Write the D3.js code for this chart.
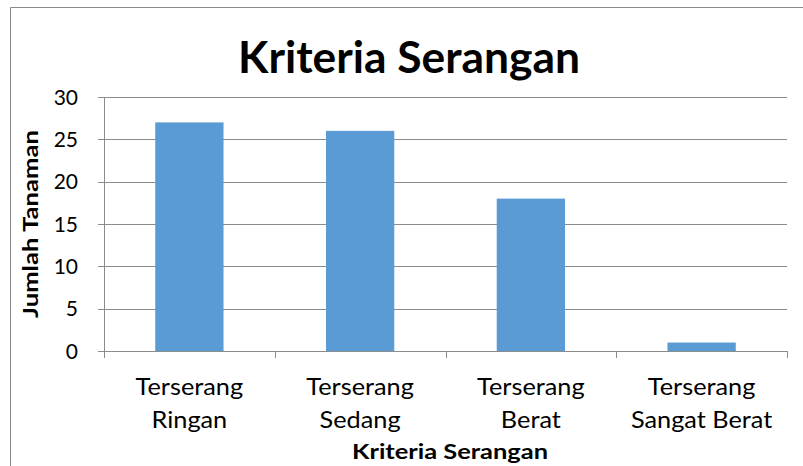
<!DOCTYPE html>
<html>
<head>
<meta charset="utf-8">
<script src="https://cdn.jsdelivr.net/npm/d3@7"></script>
<style>
  body { margin: 0; background: #fff; }
  svg text { font-family: Lato, "Open Sans", sans-serif; fill: #000; }
</style>
</head>
<body>
<div id="chart"></div>
<script>
const categories = [["Terserang", "Ringan"], ["Terserang", "Sedang"], ["Terserang", "Berat"], ["Terserang", "Sangat Berat"]];
const values = [27, 26, 18, 1];
const yTicks = [0, 5, 10, 15, 20, 25, 30];

var width = 803, height = 466;
var margin = { top: 97, right: 16, bottom: 115, left: 104 };

var svg = d3.select("#chart")
    .append("svg")
    .attr("width", width)
    .attr("height", height);

// outer chart frame (only top and left edges show in the crop)
svg.append("path")
    .attr("d", "M10.5," + height + "V7.5H" + width)
    .attr("fill", "none")
    .attr("stroke", "#8a8a8a");

var x = d3.scaleBand()
    .domain(d3.range(categories.length))
    .range([margin.left, width - margin.right])
    .paddingInner(0.6)
    .paddingOuter(0.3);

var xOuter = d3.scaleBand()
    .domain(d3.range(categories.length))
    .range([margin.left, width - margin.right]);

var y = d3.scaleLinear()
    .domain([0, 30])
    .range([height - margin.bottom, margin.top]);

// stretch text a little, Calibri in the original is wider than Lato here
function stretch(sel, k) {
    sel.each(function () {
        var w = this.getComputedTextLength();
        d3.select(this)
            .attr("textLength", w * k)
            .attr("lengthAdjust", "spacingAndGlyphs");
    });
}

// gridlines
svg.append("g")
    .selectAll("line")
    .data(yTicks)
    .enter()
    .append("line")
    .attr("x1", margin.left - 6)
    .attr("x2", width - margin.right)
    .attr("y1", d => Math.round(y(d)) + 0.5)
    .attr("y2", d => Math.round(y(d)) + 0.5)
    .attr("stroke", "#8c8c8c");

// y axis line
svg.append("line")
    .attr("x1", margin.left + 0.5)
    .attr("x2", margin.left + 0.5)
    .attr("y1", y(30))
    .attr("y2", y(0) + 6)
    .attr("stroke", "#8c8c8c");

// x category tick marks
svg.append("g")
    .selectAll("line")
    .data(d3.range(categories.length + 1))
    .enter()
    .append("line")
    .attr("x1", d => Math.round(d < categories.length ? xOuter(d) : width - margin.right) + 0.5)
    .attr("x2", d => Math.round(d < categories.length ? xOuter(d) : width - margin.right) + 0.5)
    .attr("y1", y(0))
    .attr("y2", y(0) + 7)
    .attr("stroke", "#8c8c8c");

// y tick labels
svg.append("g")
    .selectAll("text")
    .data(yTicks)
    .enter()
    .append("text")
    .attr("x", 78)
    .attr("y", d => y(d))
    .attr("dy", "0.36em")
    .attr("text-anchor", "end")
    .style("font-size", "21px")
    .text(d => d);

// bars
svg.append("g")
    .selectAll("rect")
    .data(values)
    .enter()
    .append("rect")
    .attr("x", (d, i) => x(i))
    .attr("width", x.bandwidth())
    .attr("y", d => y(d))
    .attr("height", d => y(0) - y(d))
    .attr("fill", "#5b9bd5");

// category labels
var catText = svg.append("g")
    .selectAll("text")
    .data(categories)
    .enter()
    .append("text")
    .attr("text-anchor", "middle")
    .attr("x", (d, i) => xOuter(i) + xOuter.bandwidth() / 2)
    .attr("y", 395)
    .style("font-size", "23px");

var catLines = catText.selectAll("tspan")
    .data(d => d)
    .enter()
    .append("tspan")
    .attr("x", function () { return d3.select(this.parentNode).attr("x"); })
    .attr("dy", (d, i) => i === 0 ? 0 : 33)
    .text(d => d);
stretch(catLines, 1.1);

// title
svg.append("text")
    .attr("x", 409)
    .attr("y", 73)
    .attr("text-anchor", "middle")
    .style("font-size", "44px")
    .style("font-weight", "bold")
    .attr("textLength", 342)
    .attr("lengthAdjust", "spacingAndGlyphs")
    .text("Kriteria Serangan");

// x axis title
svg.append("text")
    .attr("x", 450)
    .attr("y", 459)
    .attr("text-anchor", "middle")
    .style("font-size", "21px")
    .style("font-weight", "bold")
    .attr("textLength", 196)
    .attr("lengthAdjust", "spacingAndGlyphs")
    .text("Kriteria Serangan");

// y axis title
svg.append("text")
    .attr("transform", "translate(38,224) rotate(-90)")
    .attr("text-anchor", "middle")
    .style("font-size", "21px")
    .style("font-weight", "bold")
    .attr("textLength", 188)
    .attr("lengthAdjust", "spacingAndGlyphs")
    .text("Jumlah Tanaman");
</script>
</body>
</html>
